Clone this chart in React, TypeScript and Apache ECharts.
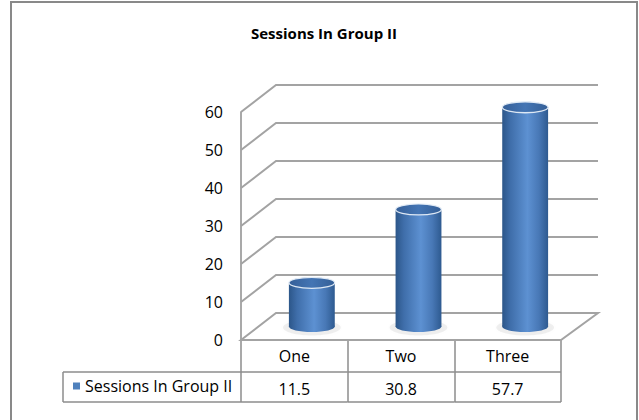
import React, { useEffect, useRef } from "react";
import * as echarts from "echarts";

const categories = ["One", "Two", "Three"];
const sessions = [11.5, 30.8, 57.7];
const seriesName = "Sessions In Group II";
const yTicks = [0, 10, 20, 30, 40, 50, 60];

const FONT = "Open Sans";
const FONT_SIZE = 16;
const TITLE_SIZE = 15;
const GRID_COLOR = "#a3a3a3";
const DEPTH_X = 35;
const DEPTH_Y = 27;
const BAR_RATIO = 0.43;
const ELLIPSE_RY = 5.5;
const ROW1 = 32;
const ROW2 = 62;
const LEG_X = 63;

export default function App() {
  const ref = useRef<HTMLDivElement>(null);
  useEffect(() => {
    if (!ref.current) return;
    const chart = echarts.init(ref.current, null, { renderer: "svg" });
    const bodyGrad = () =>
      new echarts.graphic.LinearGradient(0, 0, 1, 0, [
        { offset: 0, color: "#2c5689" },
        { offset: 0.18, color: "#3f6eaa" },
        { offset: 0.55, color: "#5d91d2" },
        { offset: 0.8, color: "#4878b6" },
        { offset: 1, color: "#2e5a90" },
      ]);
    const topGrad = () =>
      new echarts.graphic.LinearGradient(0, 0, 1, 0, [
        { offset: 0, color: "#355f98" },
        { offset: 0.5, color: "#4475b4" },
        { offset: 1, color: "#345f97" },
      ]);
    const option: any = {
      animation: false,
      backgroundColor: "#ffffff",
      title: {
        text: "Sessions In Group II",
        left: 246,
        top: 20,
        textStyle: { fontFamily: FONT, fontWeight: "bold", fontSize: TITLE_SIZE, color: "#000" },
      },
      legend: {
        data: [seriesName],
        left: 73,
        top: 378,
        padding: 0,
        itemWidth: 7,
        itemHeight: 7,
        icon: "rect",
        selectedMode: false,
        textStyle: { fontFamily: FONT, fontSize: FONT_SIZE, color: "#000" },
      },
      grid: { left: 241, top: 112, width: 320, height: 228 },
      xAxis: {
        type: "category",
        data: categories,
        axisLine: { show: false },
        axisTick: {
          show: true,
          inside: false,
          length: ROW2,
          lineStyle: { color: "#8c8c8c", width: 1.5 },
        },
        axisLabel: { margin: 8, fontFamily: FONT, fontSize: FONT_SIZE, color: "#000" },
        splitLine: { show: false },
      },
      yAxis: {
        type: "value",
        min: 0,
        max: 60,
        interval: 10,
        axisLine: { show: true, lineStyle: { color: "#8c8c8c", width: 1.5 } },
        axisTick: { show: false },
        axisLabel: { margin: 18, fontFamily: FONT, fontSize: FONT_SIZE, color: "#000" },
        splitLine: { show: false },
      },
      graphic: [
        {
          type: "rect",
          shape: { x: 11, y: 2, width: 626, height: 440 },
          style: { fill: "none", stroke: "#898989", lineWidth: 2 },
          silent: true,
        },
      ],
      series: [
        {
          type: "custom",
          name: "walls",
          z: 1,
          clip: false,
          silent: true,
          data: yTicks.map((v) => [0, v]),
          encode: { x: 0, y: 1 },
          renderItem: (params: any, api: any) => {
            const v = api.value(1);
            const p0 = api.coord([0, v]);
            const p2 = api.coord([categories.length - 1, v]);
            const band = api.size([1, 0])[0];
            const x0 = p0[0] - band / 2;
            const x1 = p2[0] + band / 2;
            const y = p0[1];
            if (v === 0) {
              return {
                type: "polygon",
                shape: {
                  points: [
                    [x0, y],
                    [x0 + DEPTH_X, y - DEPTH_Y],
                    [x1 + DEPTH_X + 2, y - DEPTH_Y],
                    [x1, y],
                  ],
                },
                style: { fill: "#ffffff", stroke: GRID_COLOR, lineWidth: 2 },
              };
            }
            return {
              type: "polyline",
              shape: {
                points: [
                  [x0, y],
                  [x0 + DEPTH_X, y - DEPTH_Y],
                  [x1 + DEPTH_X + 2, y - DEPTH_Y],
                ],
              },
              style: { fill: "none", stroke: GRID_COLOR, lineWidth: 2 },
            };
          },
        },
        {
          type: "custom",
          name: "table",
          z: 2,
          clip: false,
          silent: true,
          data: sessions.map((v, i) => [i, v]),
          encode: { x: 0, y: 1 },
          renderItem: (params: any, api: any) => {
            const i = api.value(0);
            const c = api.coord([i, 0]);
            const band = api.size([1, 0])[0];
            const x0 = c[0] - band / 2;
            const x1 = c[0] + band / 2;
            const r1 = c[1] + ROW1;
            const r2 = c[1] + ROW2;
            const ls = { stroke: "#8c8c8c", lineWidth: 1.5 };
            const children: any[] = [
              { type: "line", shape: { x1: x0, y1: r1, x2: x1, y2: r1 }, style: ls },
              { type: "line", shape: { x1: x0, y1: r2, x2: x1, y2: r2 }, style: ls },
              {
                type: "text",
                style: {
                  text: String(sessions[i]),
                  x: c[0],
                  y: (r1 + r2) / 2 + 2,
                  align: "center",
                  verticalAlign: "middle",
                  fontFamily: FONT,
                  fontSize: FONT_SIZE,
                  fill: "#000",
                },
              },
            ];
            if (i === 0) {
              children.push(
                { type: "line", shape: { x1: LEG_X, y1: r1, x2: x0, y2: r1 }, style: ls },
                { type: "line", shape: { x1: LEG_X, y1: r2, x2: x0, y2: r2 }, style: ls },
                { type: "line", shape: { x1: LEG_X, y1: r1, x2: LEG_X, y2: r2 }, style: ls }
              );
            }
            return { type: "group", children };
          },
        },
        {
          type: "custom",
          name: seriesName,
          z: 3,
          clip: false,
          itemStyle: { color: "#4f81bd" },
          data: sessions.map((v, i) => [i, v]),
          encode: { x: 0, y: 1 },
          renderItem: (params: any, api: any) => {
            const i = api.value(0);
            const v = api.value(1);
            const base = api.coord([i, 0]);
            const top = api.coord([i, v]);
            const band = api.size([1, 0])[0];
            const w = band * BAR_RATIO;
            const rx = w / 2;
            const cx = base[0] + DEPTH_X / 2;
            const by = base[1] - DEPTH_Y / 2;
            const ty = top[1] - DEPTH_Y / 2;
            return {
              type: "group",
              children: [
                {
                  type: "ellipse",
                  shape: { cx, cy: by + 1, rx: rx + 6, ry: ELLIPSE_RY + 2.5 },
                  style: {
                    fill: "rgba(0,0,0,0.06)",
                    shadowBlur: 5,
                    shadowColor: "rgba(0,0,0,0.18)",
                  },
                },
                {
                  type: "rect",
                  shape: { x: cx - rx, y: ty, width: w, height: by - ty },
                  style: { fill: bodyGrad() },
                },
                {
                  type: "ellipse",
                  shape: { cx, cy: by, rx, ry: ELLIPSE_RY },
                  style: { fill: bodyGrad() },
                },
                {
                  type: "ellipse",
                  shape: { cx, cy: ty, rx, ry: ELLIPSE_RY },
                  style: {
                    fill: topGrad(),
                    stroke: "rgba(230,238,248,0.95)",
                    lineWidth: 1.3,
                  },
                },
              ],
            };
          },
        },
      ],
    };
    chart.setOption(option);
    return () => chart.dispose();
  }, []);
  return (
    <div
      ref={ref}
      style={{ position: "fixed", left: 0, top: 0, width: 639, height: 420 }}
    />
  );
}
